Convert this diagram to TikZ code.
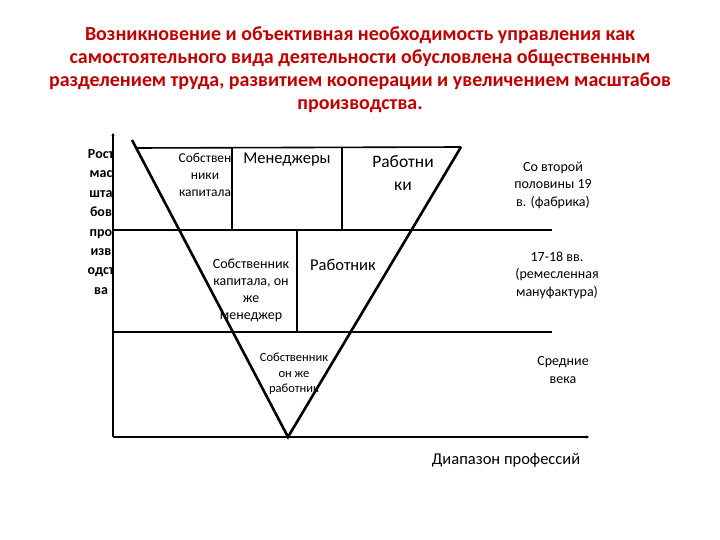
\documentclass[tikz,border=0pt]{standalone}
\usepackage{fontspec}
\setmainfont{Carlito}
\usetikzlibrary{arrows.meta}
\definecolor{titlered}{RGB}{192,0,0}
\begin{document}
\begin{tikzpicture}[x=1pt,y=-1pt,
  lbl/.style={align=center,inner sep=0pt,font=\fontsize{11}{17}\selectfont},
  vline/.style={line width=2.6pt},
  boxline/.style={line width=1.6pt},
  band/.style={line width=1.1pt},
  axis/.style={line width=1.6pt,-{Stealth[length=3pt,width=3pt]}}]
\useasboundingbox (0,0) rectangle (720,540);
% title
\node[align=center,text=titlered,font=\bfseries\fontsize{20}{23}\selectfont,inner sep=0pt] (title) at (360,70)
{Возникновение и объективная необходимость управления как\\
самостоятельного вида деятельности обусловлена общественным\\
разделением труда, развитием кооперации и увеличением масштабов\\
производства.};
% coordinates
\coordinate (o) at (113,437);
\coordinate (ytop) at (113,133);
\coordinate (xend) at (589,437);
\coordinate (A) at (132,140);
\coordinate (B) at (288,437);
\coordinate (C) at (461,147);
\coordinate (t1) at (136,148);
\coordinate (m1) at (113,230);
\coordinate (m2) at (552,230);
\coordinate (l1) at (113,332);
\coordinate (l2) at (552,332);
\coordinate (d1a) at (232,148);
\coordinate (d1b) at (232,230);
\coordinate (d2a) at (342,148);
\coordinate (d2b) at (342,230);
\coordinate (d3a) at (297,230);
\coordinate (d3b) at (297,332);
% left axis label (clipped by axis)
\begin{scope}
\clip (60,140) rectangle (113,300);
\node[align=center,inner sep=0pt,font=\bfseries\fontsize{14}{19.4}\selectfont] (ylab) at (101,222)
{Рост\\мас\\шта\\бов\\про\\изв\\одст\\ва};
\end{scope}
% bands
\draw[band] (m1) -- (m2);
\draw[band] (l1) -- (l2);
\draw[boxline] (t1) -- (C);
\draw[boxline] (d1a) -- (d1b);
\draw[boxline] (d2a) -- (d2b);
\draw[boxline] (d3a) -- (d3b);
% axes
\draw[axis] (o) -- (ytop);
\draw[axis] (o) -- (xend);
% V
\draw[vline] (A) -- (B) -- (C);
% texts
\node[lbl,font=\fontsize{13.5}{17}\selectfont] (own) at (205,175) {Собствен\\ники\\капитала};
\node[lbl,font=\fontsize{16.5}{17}\selectfont] (mgr) at (287,160) {Менеджеры};
\node[lbl,font=\fontsize{17.5}{23}\selectfont] (wrk) at (403,173) {Работни\\ки};
\node[lbl,font=\fontsize{14}{17}\selectfont] (ownmgr) at (251,290) {Собственник\\капитала, он\\же\\менеджер};
\node[lbl,font=\fontsize{16.5}{17}\selectfont] (wrk2) at (343,265) {Работник};
\node[lbl,font=\fontsize{12.5}{15.5}\selectfont] (ownwrk) at (294,374) {Собственник\\он же\\работник};
\node[lbl,font=\fontsize{14}{17.5}\selectfont] (p1) at (553,185) {Со второй\\половины 19\\в. (фабрика)};
\node[lbl,font=\fontsize{14}{17.5}\selectfont] (p2) at (557,275) {17-18 вв.\\(ремесленная\\мануфактура)};
\node[lbl,font=\fontsize{14}{17.5}\selectfont] (p3) at (563,370) {Средние\\века};
\node[lbl,font=\fontsize{16.5}{17}\selectfont] (xlab) at (506,460) {Диапазон профессий};
\end{tikzpicture}
\end{document}
